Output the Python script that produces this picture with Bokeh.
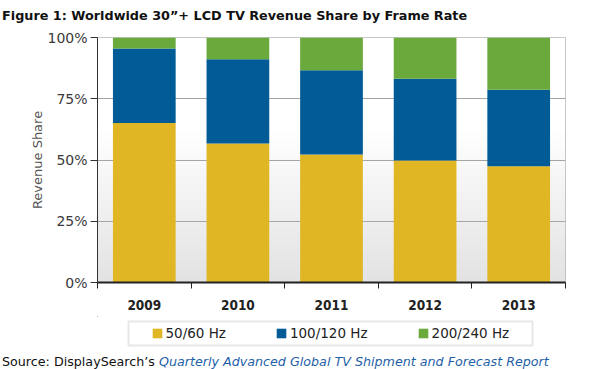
import numpy as np
from bokeh.plotting import figure
from bokeh.layouts import column
from bokeh.models import (Range1d, FixedTicker, Legend, LegendItem,
                          ColumnDataSource, Div, BoxAnnotation)
from bokeh.embed import file_html
from bokeh.resources import INLINE

# ---- data ----
years = ["2009", "2010", "2011", "2012", "2013"]
share_50_60 = [65.1, 56.7, 52.2, 49.8, 47.4]
share_100_120 = [30.4, 34.4, 34.4, 33.4, 31.3]
share_200_240 = [4.5, 8.9, 13.4, 16.8, 21.3]
series_names = ["50/60 Hz", "100/120 Hz", "200/240 Hz"]
colors = ["#e0b624", "#005b96", "#6aa93b"]
y_ticks = [0, 25, 50, 75, 100]
title_text = "Figure 1: Worldwide 30\u201d+ LCD TV Revenue Share by Frame Rate"
source_lead = "Source: DisplaySearch\u2019s"
source_report = "Quarterly Advanced Global TV Shipment and Forecast Report"

W = 598
H_TOP, H_MAIN, H_LEG, H_BOT = 27, 289, 37, 16
BORDER_L, BORDER_R = 97, 33

src = ColumnDataSource(dict(x=[i + 0.5 for i in range(len(years))],
                            a=share_50_60, b=share_100_120, c=share_200_240))

# ---- title ----
title_div = Div(
    text=("<div style=\"margin:0;padding:8px 0 0 2px;font-family:'DejaVu Sans';"
          "font-size:12.8px;font-weight:bold;line-height:normal;color:#111111;"
          f"white-space:nowrap\">{title_text}</div>"),
    width=W, height=H_TOP, margin=0)

# ---- main chart ----
p = figure(width=W, height=H_MAIN, output_backend="svg", toolbar_location=None,
           x_range=Range1d(0, len(years)), y_range=Range1d(0, 100),
           min_border_left=BORDER_L, min_border_right=BORDER_R,
           min_border_top=10, min_border_bottom=34)
p.background_fill_color = "white"
p.border_fill_color = "white"
p.outline_line_color = "#b5b5b5"
p.outline_line_width = 1

# soft gradient background of the plot area
n = 120
frac = np.linspace(0, 1, n)
shade = (255 - 28 * np.clip((0.62 - frac) / 0.62, 0, 1)).astype(np.uint8)
img = np.empty((n, 1), dtype=np.uint32)
view = img.view(dtype=np.uint8).reshape((n, 1, 4))
view[:, 0, 0] = shade
view[:, 0, 1] = shade
view[:, 0, 2] = shade
view[:, 0, 3] = 255
p.image_rgba(image=[img], x=0, y=0, dw=len(years), dh=100, level="image")

p.vbar_stack(["a", "b", "c"], x="x", width=0.67, source=src,
             color=colors, line_color=None)

p.xaxis.ticker = FixedTicker(ticks=[i + 0.5 for i in range(len(years))],
                             minor_ticks=list(range(len(years) + 1)))
p.xaxis.major_label_overrides = {i + 0.5: y for i, y in enumerate(years)}
p.xaxis.major_tick_out = 0
p.xaxis.major_tick_in = 0
p.xaxis.minor_tick_out = 6
p.xaxis.minor_tick_in = 0
p.xaxis.minor_tick_line_color = "#222222"
p.xaxis.axis_line_color = "#222222"
p.xaxis.axis_line_width = 2
p.xaxis.major_label_standoff = 11
p.xaxis.major_label_text_font = "DejaVu Sans Condensed"
p.xaxis.major_label_text_font_style = "bold"
p.xaxis.major_label_text_font_size = "13.5px"
p.xaxis.major_label_text_color = "#222222"

p.yaxis.ticker = FixedTicker(ticks=y_ticks)
p.yaxis.major_label_overrides = {t: f"{t}%" for t in y_ticks}
p.yaxis.major_tick_out = 7
p.yaxis.major_tick_in = 0
p.yaxis.minor_tick_line_color = None
p.yaxis.major_tick_line_color = "#333333"
p.yaxis.axis_line_color = "#333333"
p.yaxis.major_label_standoff = 3
p.yaxis.major_label_text_font = "DejaVu Sans"
p.yaxis.major_label_text_font_size = "14px"
p.yaxis.major_label_text_color = "#3a3a3a"
p.yaxis.axis_label = "Revenue Share"
p.yaxis.axis_label_text_font = "DejaVu Sans"
p.yaxis.axis_label_text_font_size = "13px"
p.yaxis.axis_label_text_font_style = "normal"
p.yaxis.axis_label_text_color = "#555555"
p.yaxis.axis_label_standoff = -1

p.xgrid.visible = False
p.ygrid.grid_line_color = "#a5a5a5"
p.ygrid.grid_line_width = 1

# ---- legend strip (frame aligned with the chart frame) ----
# x in page pixels; y measured downward from the strip top as negative values,
# so the series drawn here (only to feed the legend swatches) stay out of view.
leg = figure(width=W, height=H_LEG, output_backend="svg", toolbar_location=None,
             x_range=Range1d(BORDER_L, W - BORDER_R), y_range=Range1d(-H_LEG, 0),
             x_axis_type=None, y_axis_type=None,
             min_border_left=BORDER_L, min_border_right=BORDER_R,
             min_border_top=0, min_border_bottom=0)
leg.outline_line_color = None
leg.background_fill_color = "white"
leg.border_fill_color = "white"
swatches = leg.vbar_stack(["a", "b", "c"], x="x", width=0.67, source=src,
                          color=colors, line_color=None)
items = [LegendItem(label=nm, renderers=[r]) for nm, r in zip(series_names, swatches)]
legend = Legend(items=items, orientation="horizontal", location=(53.5, 12),
                glyph_width=12, glyph_height=12, label_standoff=3, spacing=49,
                label_height=16, padding=0, margin=0,
                border_line_alpha=0, background_fill_alpha=0,
                label_text_font="DejaVu Sans", label_text_font_size="13.5px",
                label_text_color="#222222")
leg.add_layout(legend, "center")
leg.add_layout(BoxAnnotation(left=128, right=532, top=-5, bottom=-29,
                             fill_alpha=0, line_color="#b0b0b0", line_width=2))

# ---- source line ----
source_div = Div(
    text=("<div style=\"margin:0;padding:1px 0 0 2px;font-family:'DejaVu Sans';"
          "font-size:12.7px;line-height:normal;color:#111111;white-space:nowrap\">"
          f"{source_lead} <i style=\"color:#1f5fa8\">{source_report}</i></div>"),
    width=W, height=H_BOT, margin=0)

layout = column(title_div, p, leg, source_div, spacing=0)
open("out.html", "w").write(file_html(layout, INLINE))
